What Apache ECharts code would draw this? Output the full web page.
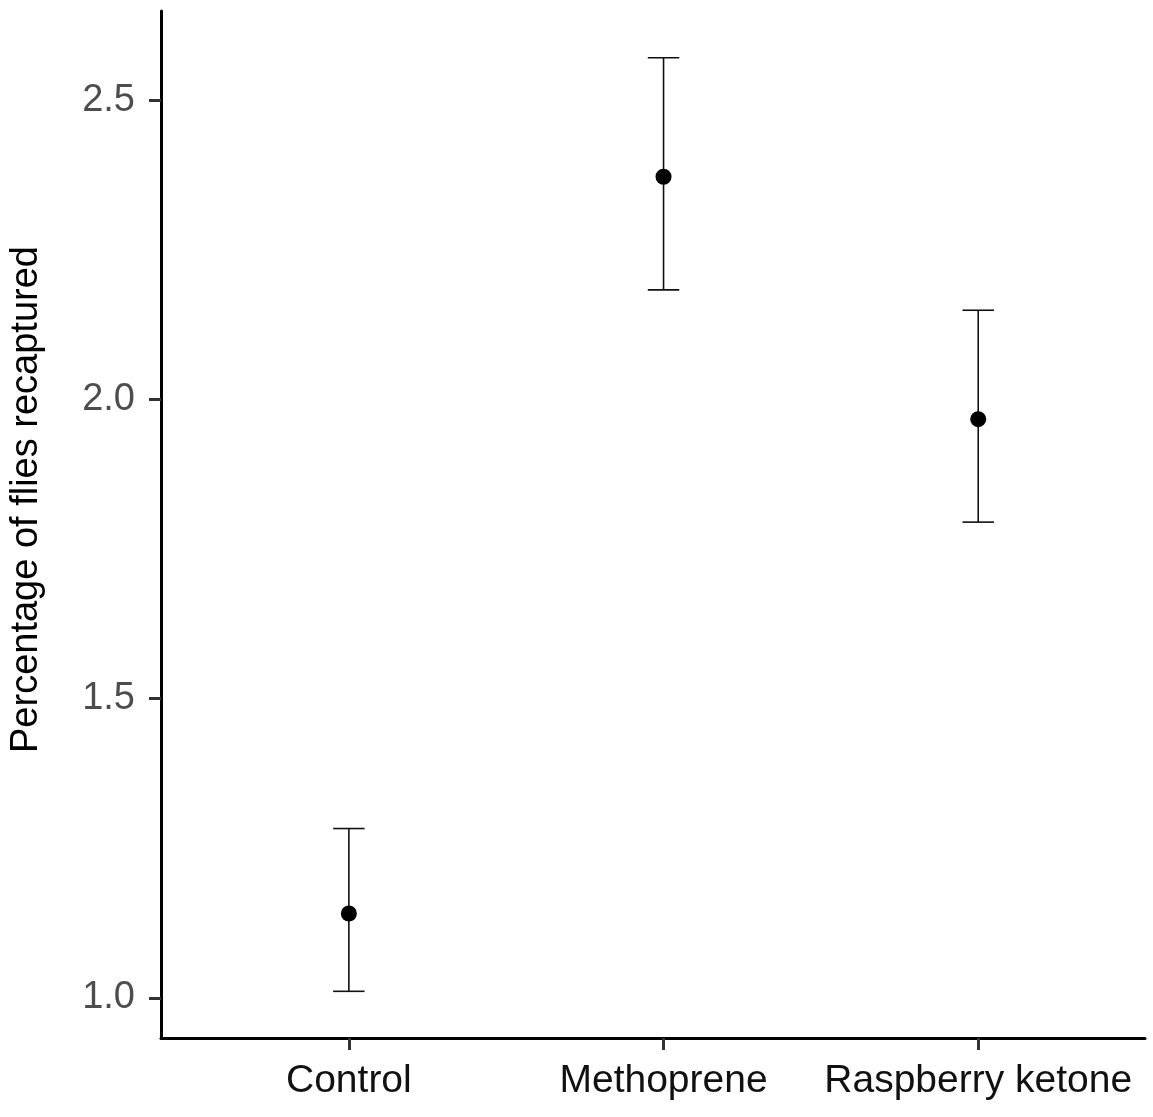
<!DOCTYPE html>
<html>
<head>
<meta charset="utf-8">
<script src="https://cdn.jsdelivr.net/npm/echarts@6/dist/echarts.min.js"></script>
<style>
  html, body { margin: 0; padding: 0; background: #fff; }
  #chart { width: 1153px; height: 1117px; }
</style>
</head>
<body>
<div id="chart"></div>
<script>
// treatments and the mean / error bar limits
var categories = ['Control', 'Methoprene', 'Raspberry ketone'];
var means = [1.141, 2.372, 1.967];
var lower = [1.011, 2.183, 1.795];
var upper = [1.283, 2.571, 2.149];
var yTicks = [1.0, 1.5, 2.0, 2.5];

var font = '"Liberation Sans", Arial, sans-serif';

var pointData = [];
var barData = [];
for (var i = 0; i < categories.length; i++) {
    pointData.push([i + 1, means[i]]);
    barData.push([i + 1, lower[i], upper[i]]);
}

var chart = echarts.init(document.getElementById('chart'));
var option = {
    animation: false,
    backgroundColor: '#fff',
    grid: {
        left: 160,
        right: 8,
        top: 11,
        bottom: 79
    },
    xAxis: {
        type: 'value',
        min: 0.403,
        max: 3.53,
        splitLine: { show: false },
        axisLine: { show: true, onZero: false, lineStyle: { color: '#000', width: 3 } },
        axisTick: {
            show: true,
            customValues: [1, 2, 3],
            length: 12,
            lineStyle: { color: '#333', width: 3 }
        },
        axisLabel: {
            customValues: [1, 2, 3],
            margin: 24,
            fontFamily: font,
            fontSize: 39,
            color: '#111',
            formatter: function (v) {
                return categories[Math.round(v) - 1] || '';
            }
        }
    },
    yAxis: {
        type: 'value',
        min: 0.933,
        max: 2.649,
        name: 'Percentage of flies recaptured',
        nameLocation: 'middle',
        nameGap: 115,
        nameTextStyle: {
            fontFamily: font,
            fontSize: 38,
            color: '#000',
            padding: [0, 0, 0, 50]
        },
        splitLine: { show: false },
        axisLine: { show: true, onZero: false, lineStyle: { color: '#000', width: 3 } },
        axisTick: {
            show: true,
            customValues: yTicks,
            length: 12,
            lineStyle: { color: '#333', width: 3 }
        },
        axisLabel: {
            customValues: yTicks,
            margin: 26,
            fontFamily: font,
            fontSize: 38,
            color: '#4d4d4d',
            formatter: function (v) {
                return v.toFixed(1);
            }
        }
    },
    series: [
        {
            name: 'errorbar',
            type: 'custom',
            data: barData,
            renderItem: function (params, api) {
                var x = api.value(0);
                var lo = api.coord([x, api.value(1)]);
                var hi = api.coord([x, api.value(2)]);
                var half = api.size([0.1, 0])[0] / 2;
                var style = { stroke: '#111', lineWidth: 1.6 };
                return {
                    type: 'group',
                    children: [
                        { type: 'line', shape: { x1: lo[0], y1: lo[1], x2: hi[0], y2: hi[1] }, style: style },
                        { type: 'line', shape: { x1: hi[0] - half, y1: hi[1], x2: hi[0] + half, y2: hi[1] }, style: style },
                        { type: 'line', shape: { x1: lo[0] - half, y1: lo[1], x2: lo[0] + half, y2: lo[1] }, style: style }
                    ]
                };
            },
            z: 2
        },
        {
            name: 'mean',
            type: 'scatter',
            data: pointData,
            symbol: 'circle',
            symbolSize: 16,
            itemStyle: { color: '#000', opacity: 1 },
            z: 3
        }
    ]
};
chart.setOption(option);
</script>
</body>
</html>
